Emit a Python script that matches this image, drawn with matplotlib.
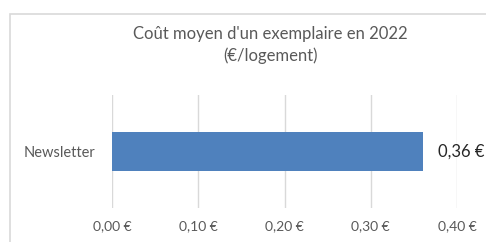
import matplotlib
matplotlib.use("Agg")
import matplotlib.pyplot as plt
from matplotlib.patches import Rectangle

categories = ["Newsletter"]
values = [0.36]
value_labels = ["0,36 €"]
xticks = [0.0, 0.1, 0.2, 0.3, 0.4]
xtick_labels = ["0,00 €", "0,10 €", "0,20 €", "0,30 €", "0,40 €"]
title = "Coût moyen d'un exemplaire en 2022\n(€/logement)"

plt.rcParams['font.family'] = ['Lato', 'DejaVu Sans']

fig = plt.figure(figsize=(4.86, 2.42), dpi=100)
fig.patch.set_facecolor('white')

# chart frame (cropped on right and bottom)
frame = Rectangle((10/486, -0.2), 1.2, 1 - 14/242 + 0.2, transform=fig.transFigure,
                  fill=False, edgecolor='#d9d9d9', linewidth=1.2)
fig.patches.append(frame)

ax = fig.add_axes([112/486, 1 - 208/242, (457 - 112)/486, (208 - 95)/242])
ax.barh(categories, values, height=0.35, color='#4f81bd', zorder=3)
ax.set_xlim(0, 0.4)
ax.set_ylim(-0.5, 0.5)
ax.set_xticks(xticks)
ax.set_xticklabels(xtick_labels, fontsize=10, color='#595959')
ax.tick_params(axis='y', labelsize=10.5, labelcolor='#595959', length=0, pad=12)
ax.tick_params(axis='x', length=0, pad=9)
ax.grid(axis='x', color='#d9d9d9', linewidth=1, zorder=0)
for s in ax.spines.values():
    s.set_visible(False)

for i, (v, lab) in enumerate(zip(values, value_labels)):
    ax.annotate(lab, (v, i), xytext=(11, 0), textcoords='offset points',
                va='center', ha='left', fontsize=12, color='#262626')

fig.text(270/486, 1 - 45/242, title, ha='center', va='center', fontsize=12,
         color='#595959', linespacing=1.35)

fig.savefig('out.png', dpi=100)
